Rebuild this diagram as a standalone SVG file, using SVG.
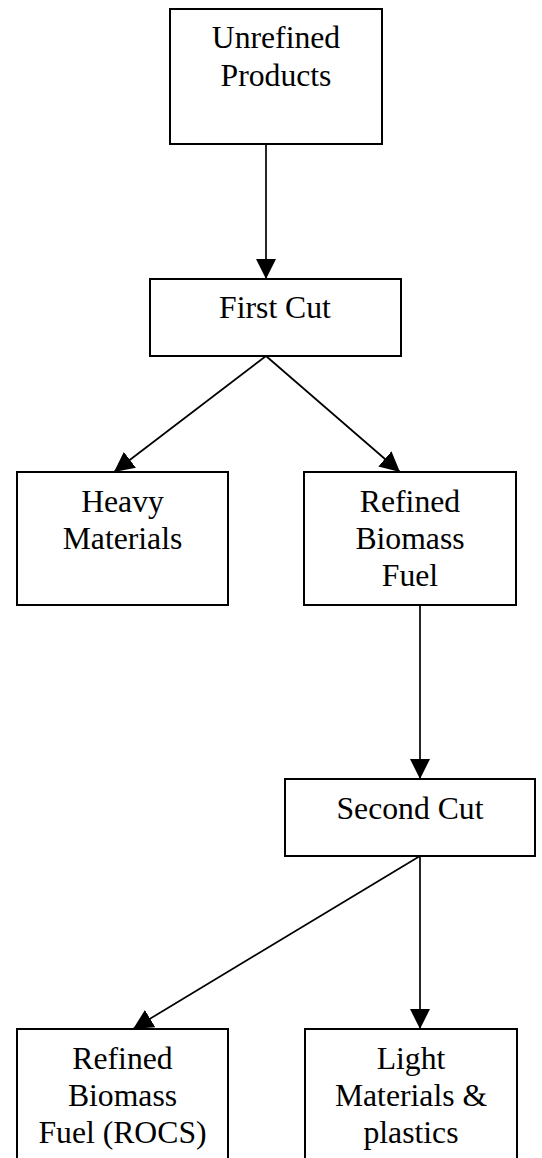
<svg xmlns="http://www.w3.org/2000/svg" width="542" height="1158" viewBox="0 0 542 1158">
<style>
.box{fill:#fff;stroke:#000;stroke-width:2}
.lbl{font-family:"Liberation Serif","Times New Roman",serif;font-size:31.7px;fill:#000;text-anchor:middle}
.conn{stroke:#000;stroke-width:1.7;fill:none;marker-end:url(#arr)}
</style>
<defs>
<marker id="arr" viewBox="0 0 20 20" markerWidth="20" markerHeight="20" refX="20" refY="10" orient="auto" markerUnits="userSpaceOnUse">
<path d="M0,0 L20,10 L0,20 z" fill="#000"/>
</marker>
</defs>
<rect width="542" height="1158" fill="#fff"/>
<g id="connectors">
<line class="conn" x1="266" y1="144" x2="266" y2="279"/>
<line class="conn" x1="266" y1="356" x2="114" y2="472"/>
<line class="conn" x1="266" y1="356" x2="400" y2="472"/>
<line class="conn" x1="420" y1="605" x2="420" y2="779"/>
<line class="conn" x1="420" y1="856" x2="133" y2="1029"/>
<line class="conn" x1="420" y1="856" x2="420" y2="1029"/>
</g>
<g id="unrefined">
<rect class="box" x="170" y="9" width="212" height="135"/>
<text class="lbl" x="276" y="48">Unrefined</text>
<text class="lbl" x="276" y="86">Products</text>
</g>
<g id="firstcut">
<rect class="box" x="150" y="279" width="251" height="77"/>
<text class="lbl" x="275" y="318">First Cut</text>
</g>
<g id="heavy">
<rect class="box" x="17" y="472" width="211" height="133"/>
<text class="lbl" x="122.5" y="512">Heavy</text>
<text class="lbl" x="122.5" y="549">Materials</text>
</g>
<g id="refined">
<rect class="box" x="304" y="472" width="212" height="133"/>
<text class="lbl" x="410" y="512">Refined</text>
<text class="lbl" x="410" y="549">Biomass</text>
<text class="lbl" x="410" y="586">Fuel</text>
</g>
<g id="secondcut">
<rect class="box" x="285" y="779" width="250" height="77"/>
<text class="lbl" x="410" y="819">Second Cut</text>
</g>
<g id="rocs">
<rect class="box" x="17" y="1029" width="211" height="133"/>
<text class="lbl" x="122.5" y="1069">Refined</text>
<text class="lbl" x="122.5" y="1106">Biomass</text>
<text class="lbl" x="122.5" y="1143">Fuel (ROCS)</text>
</g>
<g id="light">
<rect class="box" x="305" y="1029" width="212" height="133"/>
<text class="lbl" x="411" y="1069">Light</text>
<text class="lbl" x="411" y="1106">Materials &amp;</text>
<text class="lbl" x="411" y="1143">plastics</text>
</g>
</svg>
